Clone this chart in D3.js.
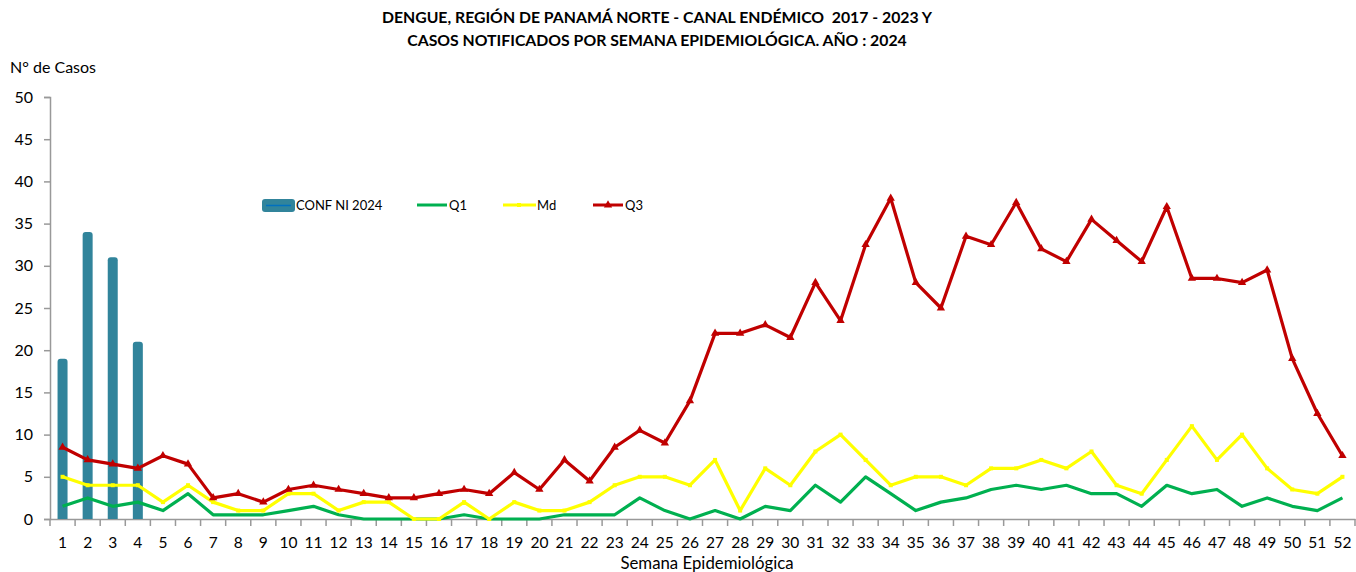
<!DOCTYPE html>
<html><head><meta charset="utf-8">
<script src="https://cdn.jsdelivr.net/npm/d3@7"></script>
<style>
html,body{margin:0;padding:0;background:#fff;}
svg{display:block;font-family:"Lato","Open Sans",sans-serif;}
</style></head>
<body>
<svg id="chart" width="1356" height="572"></svg>
<script>
const weeks = d3.range(1, 53);
const confWeeks = [1, 2, 3, 4];
const conf2024 = [19, 34, 31, 21];
const q1 = [1.5,2.5,1.5,2,1,3,0.5,0.5,0.5,1,1.5,0.5,0,0,0,0,0.5,0,0,0,0.5,0.5,0.5,2.5,1,0,1,0,1.5,1,4,2,5,3,1,2,2.5,3.5,4,3.5,4,3,3,1.5,4,3,3.5,1.5,2.5,1.5,1,2.5];
const md = [5,4,4,4,2,4,2,1,1,3,3,1,2,2,0,0,2,0,2,1,1,2,4,5,5,4,7,1,6,4,8,10,7,4,5,5,4,6,6,7,6,8,4,3,7,11,7,10,6,3.5,3,5];
const q3 = [8.5,7,6.5,6,7.5,6.5,2.5,3,2,3.5,4,3.5,3,2.5,2.5,3,3.5,3,5.5,3.5,7,4.5,8.5,10.5,9,14,22,22,23,21.5,28,23.5,32.5,38,28,25,33.5,32.5,37.5,32,30.5,35.5,33,30.5,37,28.5,28.5,28,29.5,19,12.5,7.5];
const yTicks = [0,5,10,15,20,25,30,35,40,45,50];
const titleLines = ["DENGUE, REGIÓN DE PANAMÁ NORTE - CANAL ENDÉMICO  2017 - 2023 Y", "CASOS NOTIFICADOS POR SEMANA EPIDEMIOLÓGICA. AÑO : 2024"];

const svg = d3.select("#chart");
const x = d3.scaleBand().domain(weeks).range([50, 1355]).padding(0);
const y = d3.scaleLinear().domain([0, 50]).range([519, 97]);
const cx = w => x(w) + x.bandwidth() / 2;
const axisColor = "#999";

// title
svg.append("g").selectAll("text").data(titleLines).join("text")
  .attr("x", 657).attr("y", (d, i) => 23 + i * 23)
  .attr("text-anchor", "middle").attr("font-weight", "bold").attr("font-size", 15.8)
  .attr("fill", "#000").style("white-space", "pre").attr("xml:space", "preserve").text(d => d);

svg.append("text").attr("x", 10).attr("y", 73).attr("font-size", 16).text("N° de Casos");

// y axis
const yAxis = svg.append("g").attr("transform", "translate(50,0)")
  .call(d3.axisLeft(y).tickValues(yTicks).tickSize(6).tickPadding(11));
yAxis.select(".domain").attr("stroke", axisColor).attr("stroke-width", 1.5);
yAxis.selectAll(".tick line").attr("stroke", axisColor).attr("stroke-width", 1.5);
yAxis.selectAll("text").attr("font-size", 16).attr("fill", "#000").attr("font-family", "Lato, sans-serif");

// x axis
const xAxis = svg.append("g").attr("transform", "translate(0,519)")
  .call(d3.axisBottom(x).tickSize(0).tickPadding(18));
xAxis.select(".domain").attr("stroke", axisColor).attr("stroke-width", 1.5);
xAxis.selectAll("text").attr("font-size", 15.5).attr("fill", "#000").attr("font-family", "Lato, sans-serif");
svg.append("g").selectAll("line").data(weeks.concat([53])).join("line")
  .attr("x1", d => d <= 52 ? x(d) : x(52) + x.bandwidth())
  .attr("x2", d => d <= 52 ? x(d) : x(52) + x.bandwidth())
  .attr("y1", 519).attr("y2", 526).attr("stroke", axisColor).attr("stroke-width", 1.5);

svg.append("text").attr("x", 707).attr("y", 569).attr("text-anchor", "middle")
  .attr("font-size", 16.8).text("Semana Epidemiológica");

// bars
const bw = 10, r = 3;
svg.append("g").selectAll("path").data(confWeeks.map((w, i) => ({w, v: conf2024[i]}))).join("path")
  .attr("fill", "#31849B")
  .attr("d", d => {
    const x0 = cx(d.w) - bw / 2, x1 = x0 + bw, yt = y(d.v), yb = y(0);
    return `M${x0},${yb}V${yt + r}Q${x0},${yt} ${x0 + r},${yt}H${x1 - r}Q${x1},${yt} ${x1},${yt + r}V${yb}Z`;
  });

// lines
const line = d3.line().x((d, i) => cx(weeks[i])).y(d => y(d));
svg.append("path").datum(q1).attr("d", line).attr("fill", "none").attr("stroke", "#00B050").attr("stroke-width", 3.2).attr("stroke-linejoin", "round");
svg.append("path").datum(md).attr("d", line).attr("fill", "none").attr("stroke", "#FFFF00").attr("stroke-width", 3.2).attr("stroke-linejoin", "round");
svg.append("g").selectAll("rect").data(md).join("rect")
  .attr("x", (d, i) => cx(weeks[i]) - 2).attr("y", d => y(d) - 2).attr("width", 4).attr("height", 4).attr("fill", "#FFFF00");
svg.append("path").datum(q3).attr("d", line).attr("fill", "none").attr("stroke", "#C00000").attr("stroke-width", 3.2).attr("stroke-linejoin", "round");
const tri = d3.symbol().type(d3.symbolTriangle).size(30);
svg.append("g").selectAll("path").data(q3).join("path")
  .attr("transform", (d, i) => `translate(${cx(weeks[i])},${y(d)})`).attr("d", tri).attr("fill", "#C00000");

// legend
const lg = svg.append("g");
lg.append("rect").attr("x", 262).attr("y", 199).attr("width", 33).attr("height", 13).attr("rx", 3).attr("fill", "#31849B");
lg.append("line").attr("x1", 266).attr("x2", 291).attr("y1", 205.5).attr("y2", 205.5).attr("stroke", "#0070C0").attr("stroke-width", 1.5);
lg.append("text").attr("x", 296).attr("y", 210).attr("font-size", 13).text("CONF NI 2024");
lg.append("line").attr("x1", 417).attr("x2", 447).attr("y1", 205).attr("y2", 205).attr("stroke", "#00B050").attr("stroke-width", 3);
lg.append("text").attr("x", 449).attr("y", 210).attr("font-size", 13).text("Q1");
lg.append("line").attr("x1", 503).attr("x2", 536).attr("y1", 205).attr("y2", 205).attr("stroke", "#FFFF00").attr("stroke-width", 3);
lg.append("rect").attr("x", 517).attr("y", 203).attr("width", 4).attr("height", 4).attr("fill", "#FFFF00");
lg.append("text").attr("x", 537).attr("y", 210).attr("font-size", 13).text("Md");
lg.append("line").attr("x1", 593).attr("x2", 623).attr("y1", 205).attr("y2", 205).attr("stroke", "#C00000").attr("stroke-width", 3);
lg.append("path").attr("transform", "translate(608,205)").attr("d", tri).attr("fill", "#C00000");
lg.append("text").attr("x", 625).attr("y", 210).attr("font-size", 13).text("Q3");
</script>
</body></html>
